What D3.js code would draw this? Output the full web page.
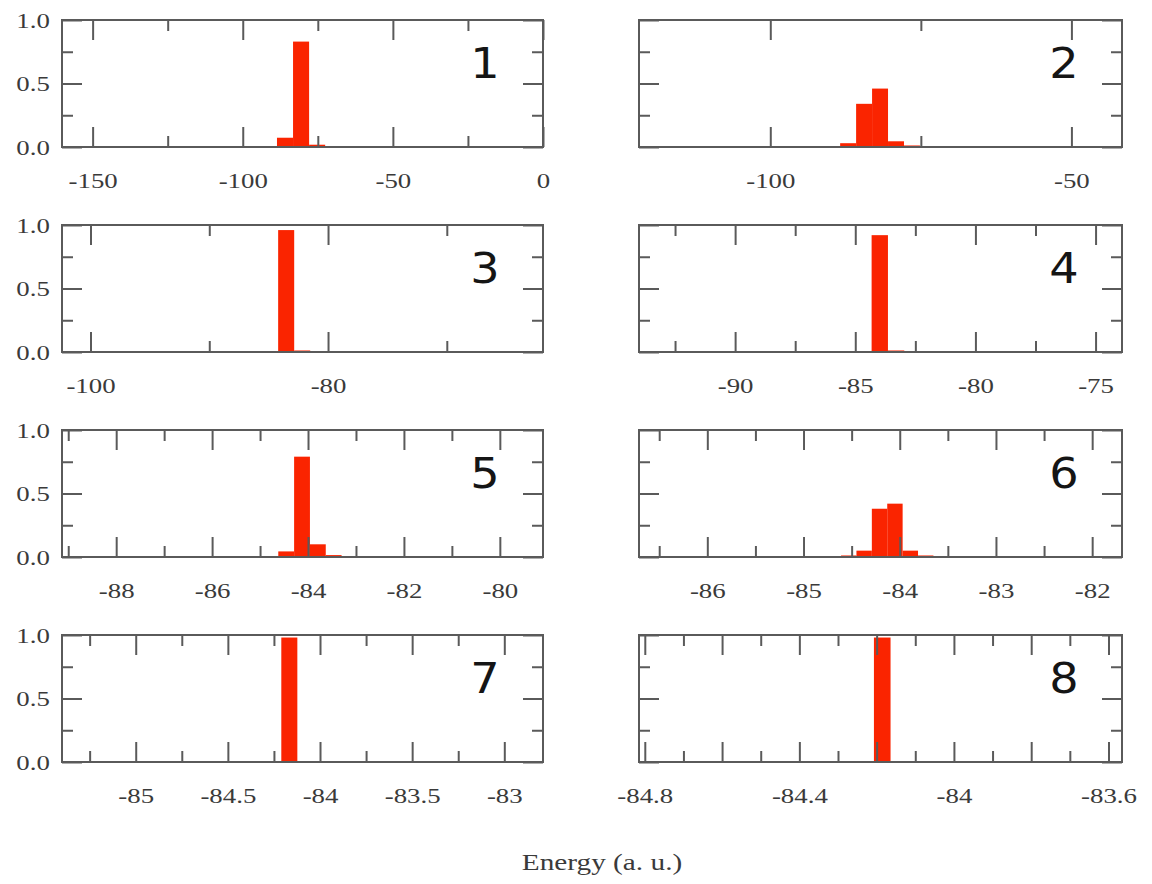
<!DOCTYPE html>
<html>
<head>
<meta charset="utf-8">
<script src="https://cdn.jsdelivr.net/npm/d3@7"></script>
<style>
  html, body { margin: 0; padding: 0; background: #fff; }
  svg { display: block; }
</style>
</head>
<body>
<div id="chart"></div>
<script>
// ---------------- data ----------------
const panelLabels = ["1", "2", "3", "4", "5", "6", "7", "8"];

const xDomains = [
  [-160.2, 0], [-121.8, -41.6],
  [-102.4, -61.9], [-94.0, -73.9],
  [-89.13, -79.1], [-86.71, -81.69],
  [-85.40, -82.79], [-84.815, -83.565]
];

const binWidths = [5.35, 2.65, 1.35, 0.68, 0.33, 0.16, 0.087, 0.043];

const binStarts = [
  [-94.0, -88.6, -83.25, -77.9, -72.55, -67.2],
  [-93.6, -91.0, -88.4, -85.75, -83.1, -80.45, -77.8, -75.15, -72.5],
  [-85.55, -84.2, -82.85, -81.5],
  [-85.0, -84.32, -83.64, -82.96, -82.28, -81.6],
  [-84.95, -84.62, -84.29, -83.96, -83.63, -83.3, -82.97, -82.64, -82.31],
  [-84.77, -84.61, -84.45, -84.29, -84.13, -83.97, -83.81, -83.65, -82.69, -82.53],
  [-85.22, -85.13, -84.96, -84.87, -84.21],
  [-84.25, -84.207]
];

const binValues = [
  [0.004, 0.073, 0.83, 0.018, 0.006, 0.002],
  [0.003, 0.005, 0.03, 0.34, 0.46, 0.045, 0.012, 0.005, 0.002],
  [0.003, 0.96, 0.012, 0.004],
  [0.003, 0.92, 0.012, 0.006, 0.004, 0.002],
  [0.003, 0.044, 0.79, 0.10, 0.015, 0.004, 0.003, 0.004, 0.003],
  [0.004, 0.012, 0.05, 0.38, 0.42, 0.05, 0.012, 0.004, 0.004, 0.004],
  [0.003, 0.002, 0.003, 0.002, 0.98],
  [0.002, 0.98]
];

const majorTicks = [
  [-150, -100, -50, 0],
  [-100, -50],
  [-100, -80],
  [-90, -85, -80, -75],
  [-88, -86, -84, -82, -80],
  [-86, -85, -84, -83, -82],
  [-85, -84.5, -84, -83.5, -83],
  [-84.8, -84.6, -84.4, -84.2, -84.0, -83.8, -83.6]
];

const minorTicks = [
  [-125, -75, -25],
  [-75],
  [-90, -70],
  [-92.5, -87.5, -82.5, -77.5],
  [-89, -87, -85, -83, -81],
  [-86.5, -85.5, -84.5, -83.5, -82.5],
  [-85.25, -84.75, -84.25, -83.75, -83.25],
  [-84.7, -84.5, -84.3, -84.1, -83.9, -83.7]
];

const tickLabels = [
  [-150, -100, -50, 0],
  [-100, -50],
  [-100, -80],
  [-90, -85, -80, -75],
  [-88, -86, -84, -82, -80],
  [-86, -85, -84, -83, -82],
  [-85, -84.5, -84, -83.5, -83],
  [-84.8, -84.4, -84, -83.6]
];

const yMajor = [0, 0.5, 1.0];
const yMinor = [0.25, 0.75];
const xTitle = "Energy (a. u.)";

// ---------------- layout ----------------
const W = 1152, H = 884;
const colLeft = [62, 639];
const colRight = [543, 1122];
const rowTop = [20, 225, 430, 635];
const panelH = 127;
const majorLen = 20, minorLen = 11;
const stretch = 1.22;
const axisColor = "#5a5a5a";
const barColor = "#fa2400";

const svg = d3.select("#chart").append("svg")
  .attr("width", W).attr("height", H)
  .style("background", "#fff");

svg.append("rect").attr("width", W).attr("height", H).attr("fill", "#fff");

const fmt = v => String(+v.toFixed(3));

function styleAxis(g, withText) {
  g.attr("color", axisColor);
  g.select(".domain").remove();
  g.selectAll(".tick line").attr("stroke-width", 2);
  if (withText) {
    g.selectAll(".tick text")
      .attr("font-family", "'Liberation Serif', 'Times New Roman', serif")
      .attr("font-size", 22)
      .attr("fill", "#3a3a3a")
      .attr("transform", `scale(${stretch},1)`);
  } else {
    g.selectAll(".tick text").remove();
  }
}

panelLabels.forEach((lab, i) => {
  const col = i % 2, row = Math.floor(i / 2);
  const x0 = colLeft[col], x1 = colRight[col];
  const y0 = rowTop[row], y1 = y0 + panelH;
  const x = d3.scaleLinear().domain(xDomains[i]).range([x0, x1]);
  const y = d3.scaleLinear().domain([0, 1]).range([y1, y0]);

  const g = svg.append("g");
  const clipId = "clip" + i;
  g.append("clipPath").attr("id", clipId)
    .append("rect").attr("x", x0).attr("y", y0).attr("width", x1 - x0).attr("height", y1 - y0);

  const bins = binStarts[i].map((s, j) => ({ s: s, e: s + binWidths[i], v: binValues[i][j] }));
  g.append("g").attr("clip-path", `url(#${clipId})`)
    .selectAll("rect").data(bins).join("rect")
    .attr("x", d => x(d.s))
    .attr("width", d => x(d.e) - x(d.s))
    .attr("y", d => y(d.v))
    .attr("height", d => y(0) - y(d.v))
    .attr("fill", barColor);

  // bottom axis: major (labelled) + minor
  const labSet = new Set(tickLabels[i].map(fmt));
  const bMaj = g.append("g").attr("transform", `translate(0,${y1})`)
    .call(d3.axisBottom(x).tickValues(majorTicks[i]).tickSize(-majorLen).tickPadding(25)
      .tickFormat(v => labSet.has(fmt(v)) ? fmt(v) : ""));
  styleAxis(bMaj, true);
  const bMin = g.append("g").attr("transform", `translate(0,${y1})`)
    .call(d3.axisBottom(x).tickValues(minorTicks[i]).tickSize(-minorLen));
  styleAxis(bMin, false);

  // top axis
  const tMaj = g.append("g").attr("transform", `translate(0,${y0})`)
    .call(d3.axisTop(x).tickValues(majorTicks[i]).tickSize(-majorLen));
  styleAxis(tMaj, false);
  const tMin = g.append("g").attr("transform", `translate(0,${y0})`)
    .call(d3.axisTop(x).tickValues(minorTicks[i]).tickSize(-minorLen));
  styleAxis(tMin, false);

  // left axis
  const lMaj = g.append("g").attr("transform", `translate(${x0},0)`)
    .call(d3.axisLeft(y).tickValues(yMajor).tickSize(-majorLen).tickPadding(10)
      .tickFormat(d3.format(".1f")));
  styleAxis(lMaj, col === 0);
  const lMin = g.append("g").attr("transform", `translate(${x0},0)`)
    .call(d3.axisLeft(y).tickValues(yMinor).tickSize(-minorLen));
  styleAxis(lMin, false);

  // right axis
  const rMaj = g.append("g").attr("transform", `translate(${x1},0)`)
    .call(d3.axisRight(y).tickValues(yMajor).tickSize(-majorLen));
  styleAxis(rMaj, false);
  const rMin = g.append("g").attr("transform", `translate(${x1},0)`)
    .call(d3.axisRight(y).tickValues(yMinor).tickSize(-minorLen));
  styleAxis(rMin, false);

  // frame
  g.append("rect")
    .attr("x", x0).attr("y", y0).attr("width", x1 - x0).attr("height", y1 - y0)
    .attr("fill", "none").attr("stroke", axisColor).attr("stroke-width", 2);

  // panel number
  g.append("text")
    .attr("transform", `translate(${x1 - 58},${y0 + 58}) scale(1.1,1)`)
    .attr("text-anchor", "middle")
    .attr("font-family", "'DejaVu Sans', sans-serif")
    .attr("font-size", 42)
    .attr("fill", "#151515")
    .text(lab);
});

svg.append("text")
  .attr("transform", `translate(602,870) scale(${stretch},1)`)
  .attr("text-anchor", "middle")
  .attr("font-family", "'Liberation Serif', 'Times New Roman', serif")
  .attr("font-size", 24)
  .attr("fill", "#3a3a3a")
  .text(xTitle);
</script>
</body>
</html>
